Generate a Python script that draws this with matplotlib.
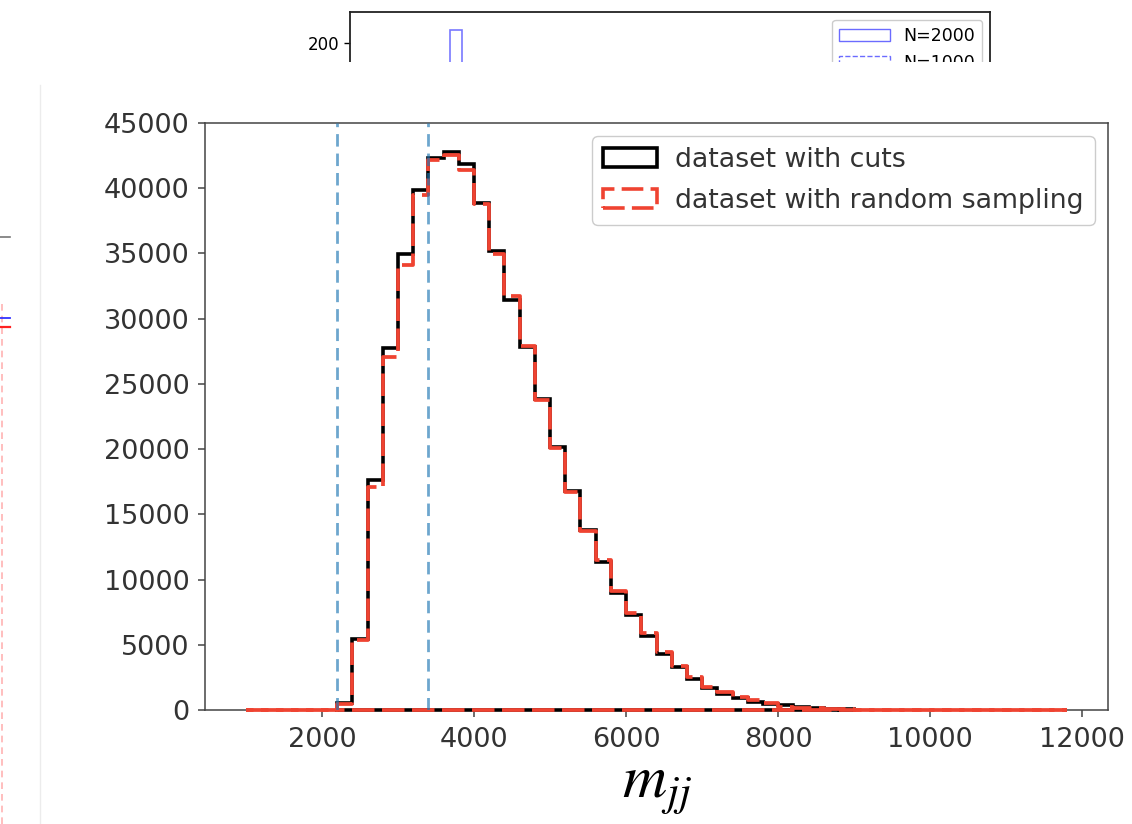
import numpy as np
import matplotlib
matplotlib.use("Agg")
import matplotlib.pyplot as plt
from matplotlib.patches import Patch, Rectangle
from matplotlib.lines import Line2D

plt.rcParams["font.family"] = ["DejaVu Sans"]
plt.rcParams["mathtext.fontset"] = "stix"

# ---- m_jj histograms (bin width 200) ----
BIN_WIDTH = 200

cuts_start = 2200
cuts_counts = [500, 5450, 17600, 27750, 34950, 39850, 42350, 42800, 41850,
               38900, 35150, 31400, 27850, 23850, 20200, 16800, 13800, 11350,
               9000, 7280, 5650, 4300, 3280, 2350, 1650, 1200, 900, 650, 480,
               350, 240, 160, 100, 60]

sampled_start = 1000
sampled_counts = [0, 0, 0, 0, 0, 0,
                  450, 5350, 17100, 27050, 34100, 39450, 42150, 42550, 41400,
                  38800, 34950, 31750, 27900, 23800, 20100, 16750, 13700, 11500,
                  9100, 7400, 5900, 4450, 3380, 2550, 1800, 1350, 1000, 760,
                  560, 260, 180, 120, 80, 50,
                  30, 20, 15, 10, 8, 5, 4, 3, 2, 2, 1, 1, 1, 1]

window_edges = [2200, 3400]

legend_labels = ["dataset with cuts", "dataset with random sampling"]
x_ticks = [2000, 4000, 6000, 8000, 10000, 12000]
y_ticks = [0, 5000, 10000, 15000, 20000, 25000, 30000, 35000, 40000, 45000]

# ---- small panel peeking out above ----
panel_edges = [0.156, 0.175]
panel_counts = [210]
panel_labels = ["N=2000", "N=1000"]
panel_ticks = [0, 50, 100, 150, 200]

RED = "#ef4331"
BLUE_LINE = "#1f77b4"
DASH = (6, 2)


def draw_hist(ax, start, counts, dashed, **kw):
    """Step histogram outline closed along the baseline.

    The outline is drawn run by run (flat near-zero runs vs. the rest) so that
    the dash pattern of the step and of the closing baseline interleave.
    """
    counts = np.asarray(counts, dtype=float)
    edges = start + BIN_WIDTH * np.arange(len(counts) + 1)
    flat = counts < 0.002 * counts.max()
    cuts = [0] + [i for i in range(1, len(counts)) if flat[i] != flat[i - 1]] + [len(counts)]
    ls = (0, DASH) if dashed else "-"
    ls_base = (DASH[0] / 1.5, DASH) if dashed else "-"
    for a, b in zip(cuts[:-1], cuts[1:]):
        e = edges[a:b + 1]
        c = counts[a:b]
        y_left = counts[a - 1] if a > 0 else 0.0
        y_right = counts[b] if b < len(counts) else 0.0
        xs = np.repeat(e, 2)
        ys = np.concatenate([[y_left], np.repeat(c, 2), [y_right]])
        ax.plot(xs, ys, linestyle=ls, **kw)
        ax.plot([e[0], e[-1]], [0, 0], linestyle=ls_base, **kw)


W, H = 1132, 824
fig = plt.figure(figsize=(W / 100, H / 100), dpi=100)
fig.patch.set_facecolor("white")

# upper panel (mostly hidden behind the main figure area)
axp = fig.add_axes([350 / W, 1 - 300 / H, 640 / W, 288 / H], zorder=0)
axp.set_xlim(0, 1)
axp.set_ylim(0, 224)
axp.stairs(panel_counts, panel_edges, color="#6b6bff", lw=1.2, alpha=0.9)
axp.set_yticks(panel_ticks)
axp.set_yticklabels([str(t) for t in panel_ticks], fontsize=12)
axp.set_xticks([])
for s in axp.spines.values():
    s.set_linewidth(1.3)
    s.set_color("#222222")
axp.tick_params(axis="y", length=4, width=1.0)
ph = [Patch(facecolor="none", edgecolor="#6b6bff", lw=1.0),
      Patch(facecolor="none", edgecolor="#6b6bff", lw=1.0, linestyle="--")]
axp.legend(ph, panel_labels, loc="upper right", fontsize=12.5,
           edgecolor="0.8", framealpha=1, borderaxespad=0.45,
           handlelength=2.9, labelspacing=0.55)

# white sheet carrying the main plot
cover = Rectangle((0, 0), 1, 1 - 62 / H, transform=fig.transFigure,
                  facecolor="white", edgecolor="none", zorder=1)
fig.add_artist(cover)

# leftover marks on the far left edge
fig.add_artist(Line2D([40 / W, 40 / W], [0, 1 - 85 / H], transform=fig.transFigure,
                      color="#ececec", lw=1.0, zorder=3))
fig.add_artist(Line2D([0, 10 / W], [1 - 237 / H] * 2, transform=fig.transFigure,
                      color="#777777", lw=1.2, zorder=3))
fig.add_artist(Line2D([1.5 / W, 1.5 / W], [0, 1 - 300 / H], transform=fig.transFigure,
                      color="#ffb3b3", lw=1.2, linestyle=(0, (4, 3)), zorder=3))
fig.add_artist(Line2D([0, 10 / W], [1 - 318 / H] * 2, transform=fig.transFigure,
                      color="#3333ff", lw=1.3, zorder=3))
fig.add_artist(Line2D([0, 10 / W], [1 - 327 / H] * 2, transform=fig.transFigure,
                      color="#ff2020", lw=1.6, zorder=3))

# main axes
ax = fig.add_axes([205 / W, 1 - 710 / H, 903 / W, 587 / H], zorder=2)

draw_hist(ax, cuts_start, cuts_counts, dashed=False, color="black", lw=2.6,
          solid_joinstyle="miter", zorder=3, clip_on=False)
draw_hist(ax, sampled_start, sampled_counts, dashed=True, color=RED, lw=2.7,
          zorder=3.1, clip_on=False)

for xv in window_edges:
    ax.axvline(xv, color=BLUE_LINE, alpha=0.65, lw=2.0,
               linestyle=(0, (4.5, 2.5)), zorder=3.2)

ax.set_xlim(460, 12340)
ax.set_ylim(0, 45000)
ax.set_xticks(x_ticks)
ax.set_yticks(y_ticks)
ax.tick_params(labelsize=19.5, labelcolor="#333333", length=5, width=1.1,
               color="#444444")
ax.tick_params(axis="x", pad=7)
ax.tick_params(axis="y", pad=6)
for s in ax.spines.values():
    s.set_linewidth(1.1)
    s.set_color("#444444")

ax.set_xlabel(r"$m_{jj}$", fontsize=44, labelpad=3)

handles = [Patch(facecolor="none", edgecolor="black", lw=2.6),
           Patch(facecolor="none", edgecolor=RED, lw=2.6, linestyle=(0, DASH))]
ax.legend(handles, legend_labels, loc="upper right", fontsize=19.3,
          labelcolor="#333333", edgecolor="0.8", framealpha=1, fancybox=True,
          labelspacing=0.55, handletextpad=0.7, borderaxespad=0.5)

fig.savefig("out.png", dpi=100, facecolor="white")
